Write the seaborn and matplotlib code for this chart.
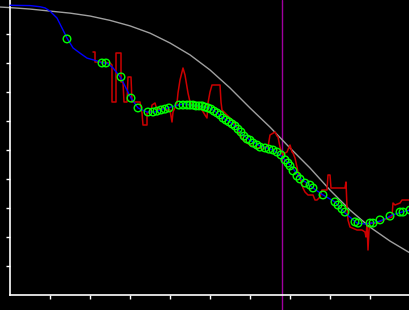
import matplotlib
matplotlib.use("Agg")
import matplotlib.pyplot as plt
import seaborn as sns
import pandas as pd

# Data (x: 0-100, y: 0-100 units)
gray_x = [-2.5, 0, 5, 10, 15, 20, 25, 30, 35, 40, 45, 50, 55, 60, 65, 70, 75, 80, 85, 90, 95, 100]
gray_y = [99.3, 99.1, 98.6, 97.9, 97.2, 96.2, 94.7, 92.8, 90.3, 86.9, 82.8, 77.6, 71.4, 64.5,
          57.9, 50.7, 43.8, 36.2, 29.3, 23.4, 18.6, 14.5]

blue_x = [0, 5, 7.5, 8.75, 10, 11.75, 13.25, 14.25, 15.75, 17.5, 19.25, 21.75, 23, 24.25, 25.75,
          27.75, 30.25, 32, 34.25, 36.25, 38.25, 39.5, 42, 43.75, 46.75, 48.25, 50, 51.75, 53.25,
          55, 56.75, 58.25, 60, 62.5, 64.25, 65.75, 67.5, 68.75, 70.5, 72.5, 74.25, 75.75, 78.25,
          81.25, 82.5, 83.75, 86.75, 88.75, 90.5, 92.5, 94.25, 95.5, 98, 100]
blue_y = [99.9, 99.8, 99.4, 99.0, 97.9, 95.5, 91.4, 88.6, 85.2, 83.4, 81.7, 80.7, 80.0, 80.0, 78.3,
          74.8, 67.9, 64.5, 63.1, 63.1, 64.1, 64.5, 65.5, 65.9, 65.2, 64.8, 64.5, 62.8, 61.0,
          59.7, 57.6, 55.2, 53.4, 51.4, 50.7, 50.0, 48.3, 46.6, 44.1, 40.3, 38.6, 36.9, 34.5,
          32.1, 30.0, 28.3, 24.8, 24.5, 24.8, 25.5, 26.6, 27.6, 28.6, 29.3]

red_px = [93, 95, 95, 100, 110, 112, 112, 116, 116, 121, 121, 123, 124, 127, 128, 131, 132, 140,
          142, 143, 147, 147, 151, 152, 155, 157, 163, 168, 170, 172, 173, 177, 178, 180, 182, 183,
          185, 187, 188, 190, 192, 197, 202, 205, 207, 208, 210, 212, 220, 221, 222, 225, 230, 237,
          240, 243, 247, 250, 257, 263, 268, 270, 275, 277, 278, 280, 282, 283, 285, 287, 290, 292,
          293, 295, 297, 298, 300, 303, 305, 308, 313, 315, 317, 320, 322, 327, 328, 330, 331, 345,
          346, 347, 348, 350, 357, 362, 365, 366, 367, 368, 369, 370, 377, 383, 392, 393, 395, 400,
          402, 410]
red_py = [52, 52, 62, 62, 63, 65, 102, 102, 53, 53, 82, 82, 102, 102, 77, 77, 102, 102,
          113, 125, 125, 113, 112, 105, 103, 110, 108, 110, 110, 122, 112, 103, 93, 80, 72, 68,
          75, 87, 93, 102, 105, 107, 110, 115, 118, 103, 92, 85, 85, 102, 110, 113, 118, 127,
          135, 140, 143, 145, 148, 148, 147, 135, 132, 136, 137, 147, 153, 155, 153, 152, 145, 152,
          153, 158, 167, 172, 178, 188, 192, 195, 195, 200, 200, 197, 190, 190, 175, 175, 188, 188,
          182, 207, 220, 227, 230, 230, 232, 237, 223, 250, 230, 223, 223, 220, 217, 203, 205, 203,
          200, 200]
red_x = [(p - 10) / 4 for p in red_px]
red_y = [(295 - p) / 2.9 for p in red_py]

circ_x = [14.25, 23, 24, 27.75, 30.25, 32, 34.5, 35.75, 36.75, 37.75, 38.75, 39.75, 42.25, 43.25,
          44.25, 45, 45.75, 46.5, 47.25, 48, 48.75, 49.5, 50.25, 51, 51.75, 52.5, 53.25, 54, 54.75,
          55.5, 56.25, 57, 57.75, 58.5, 59.25, 60, 60.75, 61.75, 62.5, 63.75, 64.75, 65.75, 66.75,
          67.75, 68.75, 69.5, 70, 70.75, 71.75, 72.5, 73.75, 75, 75.75, 78.25, 81.25, 82, 83,
          83.75, 86.25, 87, 90, 90.75, 92.5, 95, 97.5, 98.25, 100]
circ_y = [88.3, 80.0, 80.0, 75.2, 67.9, 64.5, 63.1, 63.1, 63.4, 63.8, 64.1, 64.5, 65.5, 65.5,
          65.5, 65.5, 65.5, 65.2, 65.2, 65.2, 64.8, 64.5, 64.1, 63.4, 62.8, 62.1, 61.0, 60.3, 59.7,
          59.0, 58.3, 57.2, 56.2, 54.8, 53.8, 53.4, 52.4, 51.7, 51.0, 50.7, 50.3, 50.0, 49.3,
          48.3, 46.6, 45.5, 44.5, 42.8, 41.0, 40.0, 38.6, 37.9, 36.9, 34.5, 32.1, 31.0, 29.7,
          28.6, 25.2, 24.8, 24.8, 24.8, 25.9, 27.2, 28.6, 28.6, 29.3]

vline_x = 68
x_ticks = [10, 20, 30, 40, 50, 60, 70, 80, 90]
y_ticks = [10, 20, 30, 40, 50, 60, 70, 80, 90]

sns.set_style("dark")
fig = plt.figure(figsize=(4.1, 3.1), dpi=100, facecolor="#000000")
ax = fig.add_axes([0, 0, 1, 1])
ax.set_facecolor("#000000")

ax.axvline(vline_x, color="#a000a0", lw=1.0, zorder=1)

sns.lineplot(x=gray_x, y=gray_y, sort=False, estimator=None, color="#a0a0a0", lw=1.0, ax=ax, zorder=2)
sns.lineplot(x=red_x, y=red_y, sort=False, estimator=None, color="#cc0000", lw=1.1, ax=ax, zorder=3)
sns.lineplot(x=blue_x, y=blue_y, sort=False, estimator=None, color="#0000ff", lw=1.0, ax=ax, zorder=4)
sns.scatterplot(x=circ_x, y=circ_y, marker="o", s=30, facecolor="none", edgecolor="#00ff00",
                linewidth=1.0, ax=ax, zorder=5)

ax.set_xlim(-2.5, 100)
ax.set_ylim((295 - 310) / 2.9, 295 / 2.9)
ax.grid(False)
for s in ["top", "right"]:
    ax.spines[s].set_visible(False)
ax.spines["left"].set_position(("data", 0))
ax.spines["bottom"].set_position(("data", 0))
ax.spines["left"].set_bounds(0, 295 / 2.9)
ax.spines["bottom"].set_bounds(0, 100)
for s in ["left", "bottom"]:
    ax.spines[s].set_color("white")
    ax.spines[s].set_linewidth(1.2)
    ax.spines[s].set_visible(True)
ax.set_xticks(x_ticks)
ax.set_yticks(y_ticks)
ax.set_xticklabels([])
ax.set_yticklabels([])
ax.tick_params(axis="both", direction="out", length=3, width=1, color="white",
               bottom=True, left=True)
ax.set_xlabel("")
ax.set_ylabel("")

fig.savefig("out.png", dpi=100, facecolor="#000000")
